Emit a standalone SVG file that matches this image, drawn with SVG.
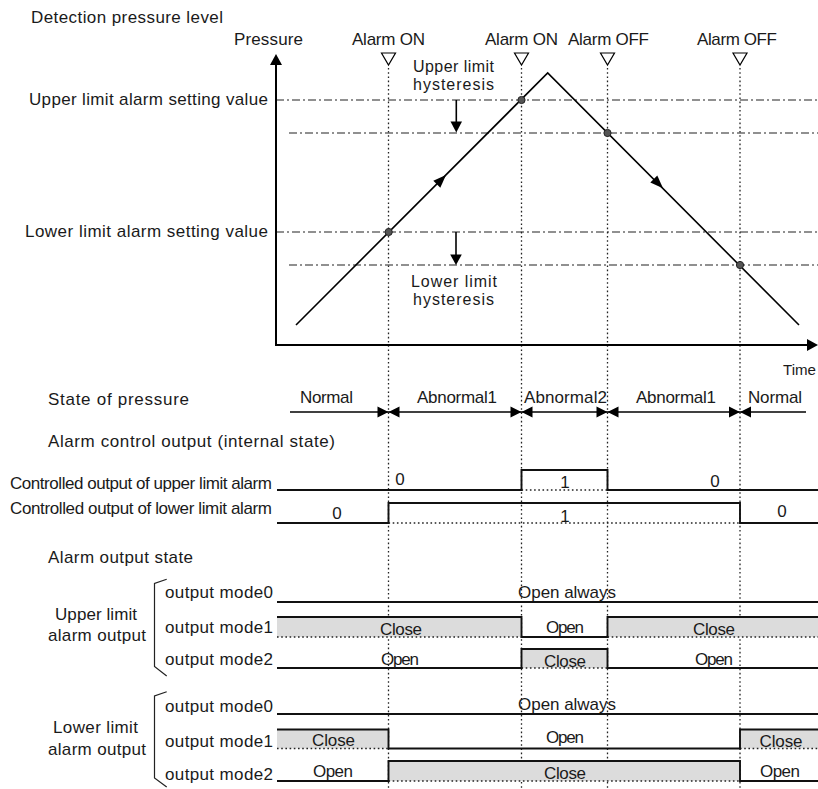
<svg xmlns="http://www.w3.org/2000/svg" width="818" height="789" viewBox="0 0 818 789">
<style>
text{font-family:"Liberation Sans",Arial,sans-serif;font-size:17px;fill:#1a1a1a}
.m{text-anchor:middle}
.h{font-size:16px}
.ax{stroke:#000;stroke-width:2;fill:none}
.dd{stroke:#222;stroke-width:1.2;stroke-dasharray:8,3,2,3;fill:none}
.dot{stroke:#222;stroke-width:1.3;stroke-dasharray:1.6,2.6;fill:none}
.ln{stroke:#000;stroke-width:1.6;fill:none}
.sig{stroke:#111;stroke-width:1.9;fill:none}
.fill{fill:#dcdcdc;stroke:none}
.ah{fill:#000;stroke:none}
.tri{fill:#fff;stroke:#000;stroke-width:1.2}
.pt{fill:#555;stroke:#222;stroke-width:1}
.br{stroke:#222;stroke-width:1.2;fill:none}
</style>
<rect width="818" height="789" fill="#fff"/>

<g id="titles">
<text x="31" y="23" textLength="192" lengthAdjust="spacing">Detection pressure level</text>
<text x="234" y="45" textLength="69" lengthAdjust="spacing">Pressure</text>
<text x="29" y="105" textLength="239" lengthAdjust="spacing">Upper limit alarm setting value</text>
<text x="25" y="237" textLength="243" lengthAdjust="spacing">Lower limit alarm setting value</text>
<text x="783" y="375" style="font-size:15px" textLength="33" lengthAdjust="spacingAndGlyphs">Time</text>
<text x="48" y="405" textLength="141" lengthAdjust="spacing">State of pressure</text>
<text x="48" y="447" textLength="287" lengthAdjust="spacing">Alarm control output (internal state)</text>
<text x="10" y="489" textLength="262" lengthAdjust="spacing">Controlled output of upper limit alarm</text>
<text x="10" y="514" textLength="262" lengthAdjust="spacing">Controlled output of lower limit alarm</text>
<text x="48" y="563" textLength="145" lengthAdjust="spacing">Alarm output state</text>
</g>

<g id="alarm-markers">
<text x="352" y="45" textLength="73" lengthAdjust="spacing">Alarm ON</text>
<text x="485" y="45" textLength="73" lengthAdjust="spacing">Alarm ON</text>
<text x="568" y="45" textLength="81" lengthAdjust="spacing">Alarm OFF</text>
<text x="697" y="45" textLength="80" lengthAdjust="spacing">Alarm OFF</text>
<polygon class="tri" points="381.5,53 395.5,53 388.5,65"/>
<polygon class="tri" points="514.5,53 528.5,53 521.5,65"/>
<polygon class="tri" points="600.5,53 614.5,53 607.5,65"/>
<polygon class="tri" points="733,53 747,53 740,65"/>
</g>

<g id="guides">
<path class="dot" d="M388.5,68V789M521.5,68V789M607.5,68V789M740,68V789"/>
<path class="dd" d="M276,100H818M289,133H818M276,232H818M289,265H818"/>
</g>

<g id="axes">
<path class="ax" d="M276,63V345H808"/>
<polygon class="ah" points="276,54 270,65 282,65"/>
<polygon class="ah" points="818,345 807,339 807,351"/>
</g>

<g id="pressure-curve">
<polyline class="ln" points="296,325 547.7,73 799,325"/>
<polygon class="ah" points="446,175 440.3,187.7 433.3,180.7"/>
<polygon class="ah" points="663,188.3 657.3,175.6 650.3,182.6"/>
<circle class="pt" cx="388.7" cy="232" r="3.6"/>
<circle class="pt" cx="521.5" cy="100" r="3.6"/>
<circle class="pt" cx="607.5" cy="133" r="3.6"/>
<circle class="pt" cx="740" cy="265" r="3.6"/>
</g>

<g id="hysteresis">
<text class="h" x="413" y="72" textLength="81" lengthAdjust="spacing">Upper limit</text>
<text class="h" x="413" y="90" textLength="81" lengthAdjust="spacing">hysteresis</text>
<path class="ln" d="M456.3,100V123"/>
<polygon class="ah" points="450.5,121.5 462,121.5 456.3,132.5"/>
<text class="h" x="411" y="287" textLength="86" lengthAdjust="spacing">Lower limit</text>
<text class="h" x="413" y="305" textLength="81" lengthAdjust="spacing">hysteresis</text>
<path class="ln" d="M456,232V256"/>
<polygon class="ah" points="450.2,254.5 461.8,254.5 456,265"/>
</g>

<g id="state-of-pressure">
<path class="ln" d="M290,412H806"/>
<path class="ah" d="M388.5,412l-11,-5.5v11zM388.5,412l11,-5.5v11zM521.5,412l-11,-5.5v11zM521.5,412l11,-5.5v11zM607.5,412l-11,-5.5v11zM607.5,412l11,-5.5v11zM740,412l-11,-5.5v11zM740,412l11,-5.5v11z"/>
<text x="300" y="403" textLength="53" lengthAdjust="spacing">Normal</text>
<text x="417" y="403" textLength="80" lengthAdjust="spacing">Abnormal1</text>
<text x="524" y="403" textLength="83" lengthAdjust="spacing">Abnormal2</text>
<text x="636" y="403" textLength="80" lengthAdjust="spacing">Abnormal1</text>
<text x="748" y="403" textLength="54" lengthAdjust="spacing">Normal</text>
</g>

<g id="control-upper">
<path class="dot" d="M521.5,490H607.5"/>
<path class="sig" d="M277,490H521.5V470H607.5V490H818"/>
<text class="m" x="400" y="485">0</text>
<text class="m" x="565" y="488">1</text>
<text class="m" x="715" y="487">0</text>
</g>

<g id="control-lower">
<path class="dot" d="M388.5,523H740"/>
<path class="sig" d="M277,523H388.5V503H740V523H818"/>
<text class="m" x="337" y="519">0</text>
<text class="m" x="565" y="522">1</text>
<text class="m" x="782" y="517">0</text>
</g>

<g id="upper-alarm-output">
<path class="br" d="M166.7,579.3L154.5,583.5V666.5L166.7,676"/>
<text class="m" x="96" y="620" textLength="82" lengthAdjust="spacing">Upper limit</text>
<text class="m" x="97" y="641" textLength="98" lengthAdjust="spacing">alarm output</text>
<text x="165" y="598" textLength="108" lengthAdjust="spacing">output mode0</text>
<text x="165" y="633" textLength="108" lengthAdjust="spacing">output mode1</text>
<text x="165" y="665" textLength="108" lengthAdjust="spacing">output mode2</text>
<rect class="fill" x="277" y="617" width="244.5" height="20"/>
<rect class="fill" x="607.5" y="617" width="210.5" height="20"/>
<rect class="fill" x="521.5" y="649" width="86" height="19"/>
<path class="dot" d="M277,637H521.5M607.5,637H818M521.5,668H607.5"/>
<path class="sig" d="M277,602H818"/>
<path class="sig" d="M277,617H521.5V637H607.5V617H818"/>
<path class="sig" d="M277,668H521.5V649H607.5V668H818"/>
<text class="m" x="567" y="598" textLength="98" lengthAdjust="spacing">Open always</text>
<text class="m" x="401" y="635" textLength="42" lengthAdjust="spacing">Close</text>
<text class="m" x="565" y="633" textLength="38" lengthAdjust="spacing">Open</text>
<text class="m" x="714" y="635" textLength="42" lengthAdjust="spacing">Close</text>
<text class="m" x="400" y="665" textLength="38" lengthAdjust="spacing">Open</text>
<text class="m" x="565" y="667" textLength="42" lengthAdjust="spacing">Close</text>
<text class="m" x="714" y="665" textLength="38" lengthAdjust="spacing">Open</text>
</g>

<g id="lower-alarm-output">
<path class="br" d="M166.7,691.7L154.5,696V778L166.7,787"/>
<text class="m" x="95.5" y="733" textLength="85" lengthAdjust="spacing">Lower limit</text>
<text class="m" x="97" y="755" textLength="98" lengthAdjust="spacing">alarm output</text>
<text x="165" y="712" textLength="108" lengthAdjust="spacing">output mode0</text>
<text x="165" y="747" textLength="108" lengthAdjust="spacing">output mode1</text>
<text x="165" y="780" textLength="108" lengthAdjust="spacing">output mode2</text>
<rect class="fill" x="277" y="729.5" width="111.5" height="19"/>
<rect class="fill" x="740" y="729.5" width="78" height="19"/>
<rect class="fill" x="388.5" y="761" width="351.5" height="20"/>
<path class="dot" d="M277,748.5H388.5M740,748.5H818M388.5,781H740"/>
<path class="sig" d="M277,714H818"/>
<path class="sig" d="M277,729.5H388.5V748.5H740V729.5H818"/>
<path class="sig" d="M277,781H388.5V761H740V781H818"/>
<text class="m" x="567" y="710" textLength="98" lengthAdjust="spacing">Open always</text>
<text class="m" x="333.5" y="746" textLength="43" lengthAdjust="spacing">Close</text>
<text class="m" x="565" y="743" textLength="38" lengthAdjust="spacing">Open</text>
<text class="m" x="781" y="747" textLength="43" lengthAdjust="spacing">Close</text>
<text class="m" x="333" y="777" textLength="40" lengthAdjust="spacing">Open</text>
<text class="m" x="565" y="779" textLength="42" lengthAdjust="spacing">Close</text>
<text class="m" x="780" y="777" textLength="40" lengthAdjust="spacing">Open</text>
</g>
</svg>
